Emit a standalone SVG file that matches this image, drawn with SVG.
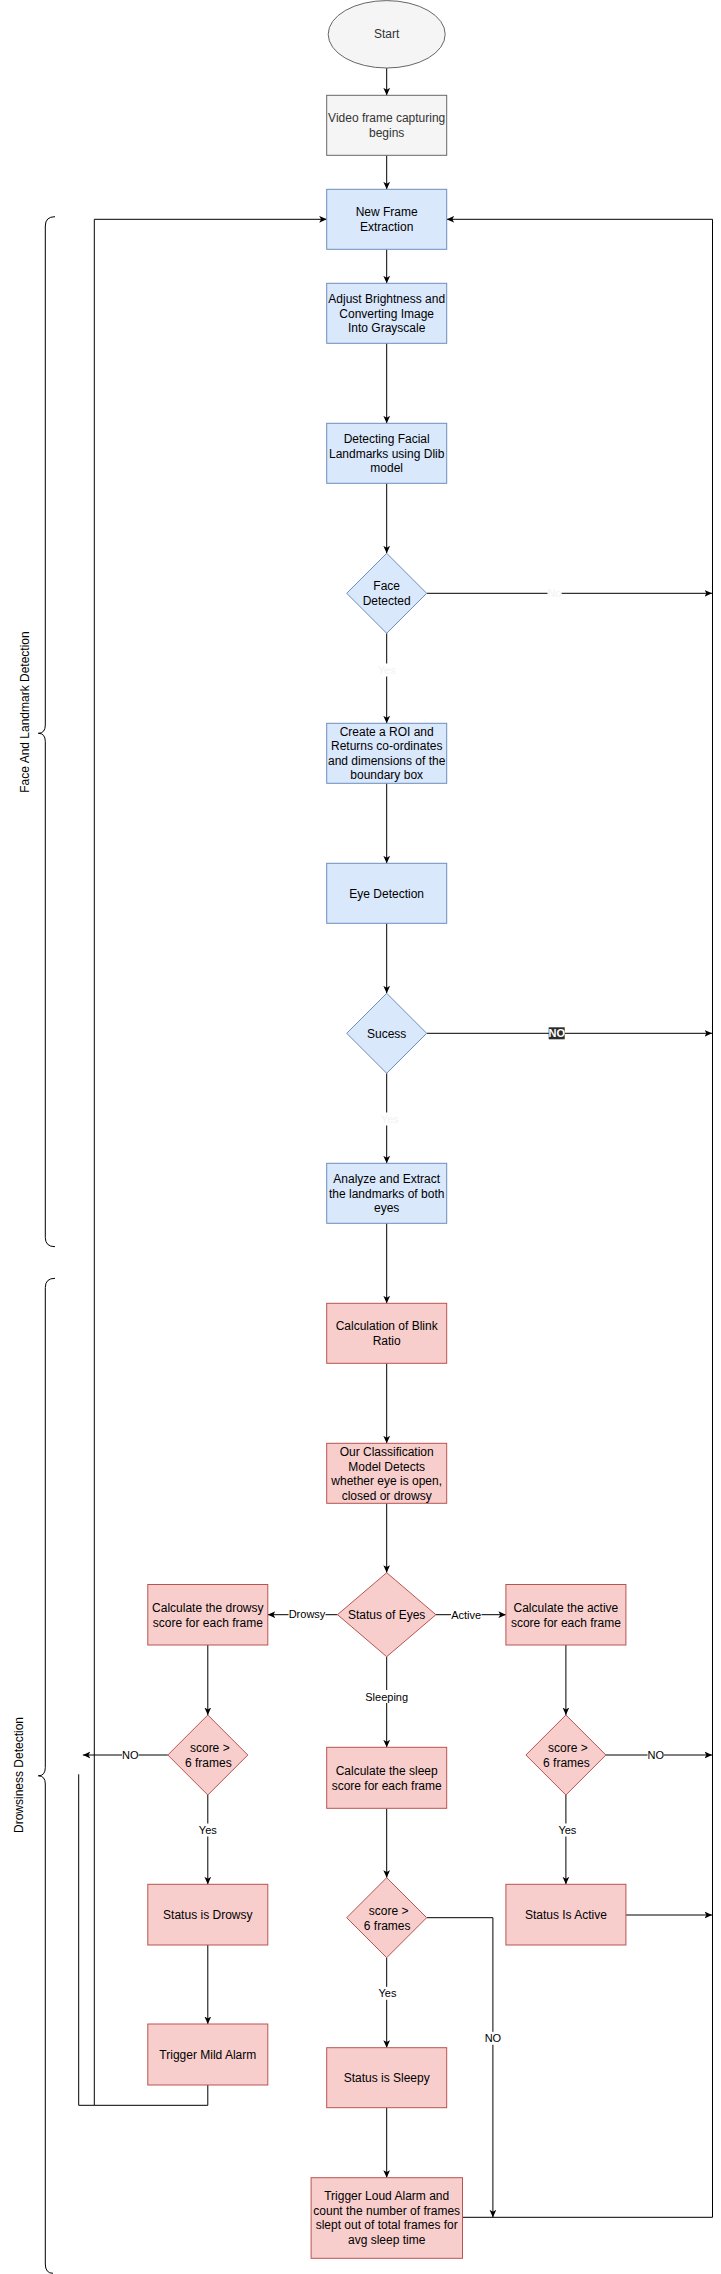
<svg xmlns="http://www.w3.org/2000/svg" width="721" height="2274" viewBox="0 0 721 2274">
<defs>
<style>
text{font-family:"Liberation Sans",Arial,Helvetica,sans-serif;font-size:12px;text-anchor:middle;fill:#000}
.grey{fill:#f5f5f5;stroke:#666666;stroke-width:1}
.grey-t{fill:#333333}
.blue{fill:#dae8fc;stroke:#6c8ebf;stroke-width:1}
.red{fill:#f8cecc;stroke:#b85450;stroke-width:1}
.e{fill:none;stroke:#000;stroke-width:1}
.a{marker-end:url(#arr)}
.lbl{font-size:11px}
.lbg{fill:#ffffff}
.ghost{fill:#f2f2f2}
.dark{fill:#2b2b2b}
.wt{fill:#ffffff;font-weight:bold}
.brace{fill:none;stroke:#000;stroke-width:1}
</style>
<marker id="arr" viewBox="0 0 10 10" refX="10" refY="5" markerWidth="7.5" markerHeight="7.5" markerUnits="userSpaceOnUse" orient="auto">
<path d="M0,0.5 L10,5 L0,9.5 L2.5,5 Z" fill="#000"/>
</marker>
</defs>
<rect width="721" height="2274" fill="#ffffff"/>

<g id="connectors">
<path class="e a" d="M386.7,68 V95.3"/>
<path class="e a" d="M386.7,155.3 V189.3"/>
<path class="e a" d="M386.7,249.3 V283.3"/>
<path class="e a" d="M386.7,343.3 V423.3"/>
<path class="e a" d="M386.7,483.3 V553.3"/>
<path class="e a" d="M386.7,633.3 V723.3"/>
<path class="e a" d="M386.7,783.3 V863.3"/>
<path class="e a" d="M386.7,923.3 V993.3"/>
<path class="e a" d="M386.7,1073.3 V1163.3"/>
<path class="e a" d="M386.7,1223.3 V1303.3"/>
<path class="e a" d="M386.7,1363.3 V1443.3"/>
<path class="e a" d="M386.7,1503.3 V1572.7"/>
<path class="e a" d="M426.7,593.3 H712"/>
<path class="e a" d="M426.7,1033.3 H712"/>
<path class="e a" d="M337.5,1614.7 H267.8"/>
<path class="e a" d="M435.9,1614.7 H505.9"/>
<path class="e a" d="M386.7,1656.7 V1747.3"/>
<path class="e a" d="M207.8,1645 V1715"/>
<path class="e a" d="M207.8,1795 V1884.3"/>
<path class="e a" d="M167.8,1755 H82.8"/>
<path class="e a" d="M207.8,1945 V2024"/>
<path class="e a" d="M207.8,2085 V2105.3 H94.3 V219.3 H326.7"/>
<path class="e" d="M94.3,2105.3 H78.7 V1774.3"/>
<path class="e a" d="M565.9,1645 V1715"/>
<path class="e a" d="M565.9,1795 V1884.3"/>
<path class="e a" d="M605.9,1755 H712"/>
<path class="e a" d="M625.9,1915 H712"/>
<path class="e a" d="M386.7,1808.3 V1877.7"/>
<path class="e a" d="M386.7,1957.7 V2047.7"/>
<path class="e a" d="M386.7,2107.7 V2177.7"/>
<path class="e a" d="M426.7,1917.7 H492.9 V2217.3"/>
<path class="e a" d="M462.5,2217.3 H712.5 V219.3 H446.7"/>

<rect class="lbg" x="547.5" y="586.5" width="14" height="13"/>
<text class="lbl ghost" x="554.5" y="597.3">No</text>
<rect class="lbg" x="377" y="663.5" width="19.5" height="13"/>
<text class="lbl ghost" x="386.7" y="674.3">Yes</text>
<rect class="dark" x="548.7" y="1027.3" width="16" height="12"/>
<text class="lbl wt" x="556.7" y="1037.3">NO</text>
<rect class="lbg" x="380" y="1112.5" width="19.5" height="13"/>
<text class="lbl ghost" x="389.8" y="1123.3">Yes</text>
<rect class="lbg" x="288.5" y="1607" width="37" height="13"/>
<text class="lbl" x="307" y="1617.5">Drowsy</text>
<rect class="lbg" x="451" y="1608" width="30.5" height="13"/>
<text class="lbl" x="466.2" y="1618.7">Active</text>
<rect class="lbg" x="365" y="1690" width="43.5" height="13"/>
<text class="lbl" x="386.7" y="1700.7">Sleeping</text>
<rect class="lbg" x="122" y="1748.5" width="16.5" height="13"/>
<text class="lbl" x="130.2" y="1759">NO</text>
<rect class="lbg" x="198" y="1823.5" width="19.5" height="13"/>
<text class="lbl" x="207.8" y="1834">Yes</text>
<rect class="lbg" x="647.5" y="1748.5" width="16.5" height="13"/>
<text class="lbl" x="655.8" y="1759">NO</text>
<rect class="lbg" x="557.5" y="1823.5" width="19.5" height="13"/>
<text class="lbl" x="567.4" y="1834">Yes</text>
<rect class="lbg" x="377.7" y="1986.8" width="19.5" height="13"/>
<text class="lbl" x="387.5" y="1997.3">Yes</text>
<rect class="lbg" x="484.6" y="2031.8" width="16.5" height="13"/>
<text class="lbl" x="492.9" y="2042.3">NO</text>
</g>

<g id="brace-face">
<path class="brace" d="M55,216.7 Q45.3,216.7 45.3,226 V725 Q45.3,733.3 38.3,733.3 Q45.3,733.3 45.3,741.6 V1237.5 Q45.3,1246.7 55,1246.7"/>
<text transform="translate(29,712) rotate(-90)" x="0" y="0">Face And Landmark Detection</text>
</g>
<g id="brace-drowsiness">
<path class="brace" d="M55,1278.3 Q45.3,1278.3 45.3,1287.5 V1767.5 Q45.3,1775.8 38.3,1775.8 Q45.3,1775.8 45.3,1784 V2264 Q45.3,2273.3 53,2273.3"/>
<text transform="translate(23.3,1775) rotate(-90)" x="0" y="0">Drowsiness Detection</text>
</g>

<g id="start">
<ellipse class="grey" cx="386.7" cy="34.3" rx="58.5" ry="33.7"/>
<text class="grey-t" x="386.7" y="37.8">Start</text>
</g>
<g id="video-capture">
<rect class="grey" x="326.7" y="95.3" width="120" height="60"/>
<text class="grey-t" x="386.7" y="122">Video frame capturing</text>
<text class="grey-t" x="386.7" y="137">begins</text>
</g>
<g id="new-frame">
<rect class="blue" x="326.7" y="189.3" width="120" height="60"/>
<text x="386.7" y="216">New Frame</text>
<text x="386.7" y="231">Extraction</text>
</g>
<g id="adjust">
<rect class="blue" x="326.7" y="283.3" width="120" height="60"/>
<text x="386.7" y="303.1">Adjust Brightness and</text>
<text x="386.7" y="317.6">Converting Image</text>
<text x="386.7" y="332.1">Into Grayscale</text>
</g>
<g id="landmarks">
<rect class="blue" x="326.7" y="423.3" width="120" height="60"/>
<text x="386.7" y="443.1">Detecting Facial</text>
<text x="386.7" y="457.6">Landmarks using Dlib</text>
<text x="386.7" y="472.1">model</text>
</g>
<g id="face-detected">
<polygon class="blue" points="386.7,553.3 426.7,593.3 386.7,633.3 346.7,593.3"/>
<text x="386.7" y="590">Face</text>
<text x="386.7" y="605">Detected</text>
</g>
<g id="roi">
<rect class="blue" x="326.7" y="723.3" width="120" height="60"/>
<text x="386.7" y="735.9">Create a ROI and</text>
<text x="386.7" y="750.4">Returns co-ordinates</text>
<text x="386.7" y="764.9">and dimensions of the</text>
<text x="386.7" y="779.3">boundary box</text>
</g>
<g id="eye-detection">
<rect class="blue" x="326.7" y="863.3" width="120" height="60"/>
<text x="386.7" y="897.5">Eye Detection</text>
</g>
<g id="success">
<polygon class="blue" points="386.7,993.3 426.7,1033.3 386.7,1073.3 346.7,1033.3"/>
<text x="386.7" y="1037.6">Sucess</text>
</g>
<g id="analyze">
<rect class="blue" x="326.7" y="1163.3" width="120" height="60"/>
<text x="386.7" y="1183">Analyze and Extract</text>
<text x="386.7" y="1197.6">the landmarks of both</text>
<text x="386.7" y="1212.2">eyes</text>
</g>
<g id="blink-ratio">
<rect class="red" x="326.7" y="1303.3" width="120" height="60"/>
<text x="386.7" y="1330">Calculation of Blink</text>
<text x="386.7" y="1345">Ratio</text>
</g>
<g id="classification">
<rect class="red" x="326.7" y="1443.3" width="120" height="60"/>
<text x="386.7" y="1456">Our Classification</text>
<text x="386.7" y="1470.5">Model Detects</text>
<text x="386.7" y="1485">whether eye is open,</text>
<text x="386.7" y="1499.5">closed or drowsy</text>
</g>
<g id="status-eyes">
<polygon class="red" points="386.7,1572.7 435.9,1614.7 386.7,1656.7 337.5,1614.7"/>
<text x="386.7" y="1619.2">Status of Eyes</text>
</g>
<g id="drowsy-score">
<rect class="red" x="147.8" y="1584.5" width="120" height="60.5"/>
<text x="207.8" y="1612">Calculate the drowsy</text>
<text x="207.8" y="1627">score for each frame</text>
</g>
<g id="active-score">
<rect class="red" x="505.9" y="1584.5" width="120" height="60.5"/>
<text x="565.9" y="1612">Calculate the active</text>
<text x="565.9" y="1627">score for each frame</text>
</g>
<g id="drowsy-check">
<polygon class="red" points="207.8,1715 247.8,1755 207.8,1795 167.8,1755"/>
<text x="209.8" y="1752">score &gt;</text>
<text x="208.3" y="1767">6 frames</text>
</g>
<g id="sleep-score">
<rect class="red" x="326.7" y="1747.3" width="120" height="61"/>
<text x="386.7" y="1775">Calculate the sleep</text>
<text x="386.7" y="1790">score for each frame</text>
</g>
<g id="active-check">
<polygon class="red" points="565.9,1715 605.9,1755 565.9,1795 525.9,1755"/>
<text x="567.9" y="1752">score &gt;</text>
<text x="566.4" y="1767">6 frames</text>
</g>
<g id="status-drowsy">
<rect class="red" x="147.8" y="1884.3" width="120" height="60.7"/>
<text x="207.8" y="1919.3">Status is Drowsy</text>
</g>
<g id="status-active">
<rect class="red" x="505.9" y="1884.3" width="120" height="60.7"/>
<text x="565.9" y="1919.3">Status Is Active</text>
</g>
<g id="sleep-check">
<polygon class="red" points="386.7,1877.7 426.7,1917.7 386.7,1957.7 346.7,1917.7"/>
<text x="388.7" y="1915">score &gt;</text>
<text x="387.2" y="1930">6 frames</text>
</g>
<g id="mild-alarm">
<rect class="red" x="147.8" y="2024" width="120" height="61"/>
<text x="207.8" y="2059">Trigger Mild Alarm</text>
</g>
<g id="status-sleepy">
<rect class="red" x="326.7" y="2047.7" width="120" height="60"/>
<text x="386.7" y="2082">Status is Sleepy</text>
</g>
<g id="loud-alarm">
<rect class="red" x="311.1" y="2177.7" width="151.4" height="80.6"/>
<text x="386.7" y="2200">Trigger Loud Alarm and</text>
<text x="386.7" y="2214.5">count the number of frames</text>
<text x="386.7" y="2229">slept out of total frames for</text>
<text x="386.7" y="2243.5">avg sleep time</text>
</g>
</svg>
